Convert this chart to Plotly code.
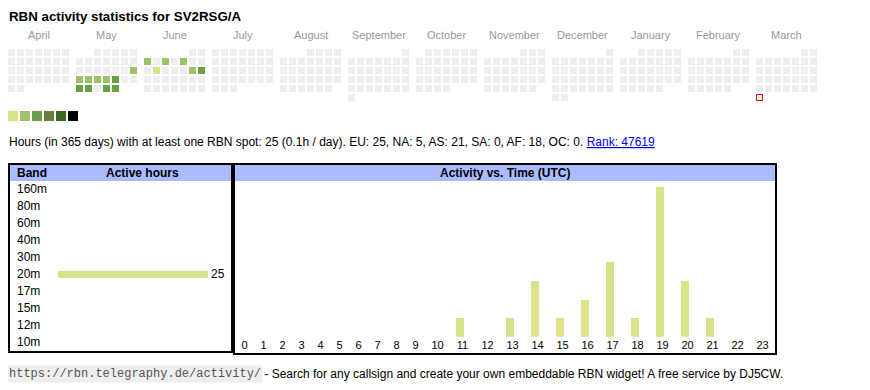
import datetime as dt
import plotly.graph_objects as go

# ---------------- data ----------------
title_text = "RBN activity statistics for SV2RSG/A"
start_date = dt.date(2024, 4, 1)
end_date = dt.date(2025, 3, 31)
month_names = ["April", "May", "June", "July", "August", "September",
               "October", "November", "December", "January", "February", "March"]
active_dates = ["2024-05-19", "2024-05-20", "2024-05-21", "2024-05-22", "2024-05-23",
                "2024-05-24", "2024-05-27", "2024-05-28", "2024-05-30", "2024-05-31",
                "2024-06-03", "2024-06-05", "2024-06-07", "2024-06-11", "2024-06-15",
                "2024-06-16"]
active_levels = [2, 2, 2, 2, 2, 3, 3, 3, 3, 3, 2, 2, 2, 1, 2, 3]
level_colors = ["#eeeeee", "#dae38a", "#9dc26a", "#68a045", "#687d3b", "#3b6a27", "#000000"]

summary_text = ("Hours (in 365 days) with at least one RBN spot: 25 (0.1h / day). "
                "EU: 25, NA: 5, AS: 21, SA: 0, AF: 18, OC: 0. ")
rank_text = "Rank: 47619"

bands = ["160m", "80m", "60m", "40m", "30m", "20m", "17m", "15m", "12m", "10m"]
band_hours = [0, 0, 0, 0, 0, 25, 0, 0, 0, 0]

hours = list(range(24))
hour_counts = [0, 0, 0, 0, 0, 0, 0, 0, 0, 0, 0, 1, 0, 1, 3, 1, 2, 4, 1, 8, 3, 1, 0, 0]

footer_url = "https://rbn.telegraphy.de/activity/"
footer_text = " - Search for any callsign and create your own embeddable RBN widget! A free service by DJ5CW."

# ---------------- layout constants ----------------
OFF = 8                 # page margin around the plot div
FW, FH = 862, 382       # figure size (page coordinates OFF..OFF+FW)
SANS = "Liberation Sans, Arial, sans-serif"
MONO = "Liberation Mono, DejaVu Sans Mono, monospace"
BAR_COLOR = level_colors[1]
HEAD_COLOR = "#aabbff"
CAL_X0, CAL_Y0, BLOCK_W, PITCH, CELL = 8, 49, 68, 9, 7
LEFT = 8.5              # left text edge (inside the axis range)


def dx(px):
    return (px - OFF) / FW


def dy(px):
    return 1 - (px - OFF) / FH


# ---------------- calendar cells ----------------
level_of = {dt.date.fromisoformat(d): l for d, l in zip(active_dates, active_levels)}
cx, cy, cc = [], [], []
d = start_date
while d <= end_date:
    m_idx = (d.year - start_date.year) * 12 + d.month - start_date.month
    pos = d.replace(day=1).weekday() + d.day - 1
    cx.append(CAL_X0 + m_idx * BLOCK_W + (pos % 7) * PITCH + CELL / 2)
    cy.append(CAL_Y0 + (pos // 7) * PITCH + CELL / 2)
    cc.append(level_colors[level_of.get(d, 0)])
    d += dt.timedelta(days=1)
today_x, today_y = cx[-1], cy[-1]

fig = go.Figure()
fig.add_trace(go.Scatter(x=cx, y=cy, mode="markers", hoverinfo="skip",
                         marker=dict(symbol="square", size=CELL, color=cc, line=dict(width=0)),
                         xaxis="x", yaxis="y"))
fig.add_trace(go.Scatter(x=[today_x], y=[today_y], mode="markers", hoverinfo="skip",
                         marker=dict(symbol="square", size=CELL - 1, color=level_colors[0],
                                     line=dict(width=1, color="#ee0000")),
                         xaxis="x", yaxis="y"))
# colour legend
leg_levels = list(range(1, len(level_colors)))
fig.add_trace(go.Scatter(x=[8 + 12 * (i - 1) + 5 for i in leg_levels], y=[116] * len(leg_levels),
                         mode="markers", hoverinfo="skip",
                         marker=dict(symbol="square", size=10,
                                     color=[level_colors[i] for i in leg_levels], line=dict(width=0)),
                         xaxis="x", yaxis="y"))

# ---------------- band bars ----------------
fig.add_trace(go.Bar(x=band_hours, y=bands, orientation="h", width=0.41,
                     marker=dict(color=BAR_COLOR, line=dict(width=0)),
                     text=[str(v) if v else "" for v in band_hours], textposition="outside",
                     constraintext="none",
                     textfont=dict(family=SANS, size=12, color="#000"),
                     cliponaxis=False, hoverinfo="skip", xaxis="x2", yaxis="y2"))

# ---------------- hourly bars ----------------
col_w = [13 + 6 * len(str(h)) for h in hours]
centers = []
acc = 235
for w in col_w:
    centers.append(acc + w / 2)
    acc += w
fig.add_trace(go.Bar(x=centers, y=hour_counts, width=8, offset=-6.5,
                     marker=dict(color=BAR_COLOR, line=dict(width=0)),
                     hoverinfo="skip", xaxis="x3", yaxis="y3"))

# ---------------- shapes (boxes/headers) ----------------
shapes = [
    dict(type="rect", xref="x", yref="y", x0=10, x1=231, y0=165, y1=181,
         fillcolor=HEAD_COLOR, line=dict(width=0), layer="below"),
    dict(type="rect", xref="x", yref="y", x0=235, x1=775, y0=165, y1=181,
         fillcolor=HEAD_COLOR, line=dict(width=0), layer="below"),
    dict(type="rect", xref="x", yref="y", x0=9, x1=232, y0=164, y1=352,
         line=dict(width=2, color="#000"), fillcolor="rgba(0,0,0,0)"),
    dict(type="rect", xref="x", yref="y", x0=234, x1=776, y0=164, y1=354,
         line=dict(width=2, color="#000"), fillcolor="rgba(0,0,0,0)"),
]

# ---------------- annotations ----------------
ann = []
ann.append(dict(x=LEFT, xshift=-1.5, y=16, xref="x", yref="y", text="<b>" + title_text + "</b>",
                xanchor="left", yanchor="middle", showarrow=False,
                font=dict(family=SANS, size=13.3, color="#000")))
for i, name in enumerate(month_names):
    ann.append(dict(x=CAL_X0 + i * BLOCK_W + (7 * PITCH - 2) / 2, y=35, xref="x", yref="y",
                    text=name, xanchor="center", yanchor="middle", showarrow=False,
                    font=dict(family=SANS, size=11, color="#999999")))
ann.append(dict(x=LEFT, xshift=-1.5, y=142, xref="x", yref="y",
                text=summary_text + "<span style='color:#0000ee'><u>" + rank_text + "</u></span>",
                xanchor="left", yanchor="middle", showarrow=False,
                font=dict(family=SANS, size=12, color="#000")))
ann.append(dict(x=14.5, y=173, xref="x", yref="y", text="<b>Band</b>", xanchor="left",
                yanchor="middle", showarrow=False, font=dict(family=SANS, size=12, color="#000")))
ann.append(dict(x=142, y=173, xref="x", yref="y", text="<b>Active hours</b>", xanchor="center",
                yanchor="middle", showarrow=False, font=dict(family=SANS, size=12, color="#000")))
ann.append(dict(x=505, y=173, xref="x", yref="y", text="<b>Activity vs. Time (UTC)</b>",
                xanchor="center", yanchor="middle", showarrow=False,
                font=dict(family=SANS, size=12, color="#000")))
for b in bands:
    ann.append(dict(x=14.5, y=b, xref="x", yref="y2", text=b, xanchor="left", yanchor="middle",
                    showarrow=False, font=dict(family=SANS, size=12, color="#000")))
ann.append(dict(x=LEFT, xshift=-1.5, y=374, xref="x", yref="y", text=footer_url,
                xanchor="left", yanchor="middle",
                showarrow=False, bgcolor="#eeeeee", borderpad=1,
                font=dict(family=MONO, size=12, color="#555555")))
ann.append(dict(x=259, y=374, xref="x", yref="y", text=footer_text, xanchor="left",
                yanchor="middle", showarrow=False, font=dict(family=SANS, size=12, color="#000")))

fig.update_layout(
    width=FW, height=FH, autosize=False, margin=dict(l=0, r=0, t=0, b=0),
    paper_bgcolor="#ffffff", plot_bgcolor="rgba(0,0,0,0)", showlegend=False,
    shapes=shapes, annotations=ann, bargap=0,
    xaxis=dict(domain=[0, 1], range=[OFF, OFF + FW], visible=False, fixedrange=True),
    yaxis=dict(domain=[0, 1], range=[OFF + FH, OFF], visible=False, fixedrange=True),
    xaxis2=dict(domain=[dx(58), dx(208)], range=[0, max(band_hours)], visible=False,
                anchor="y2", fixedrange=True),
    yaxis2=dict(domain=[dy(350.8), dy(180.8)], type="category", categoryorder="array",
                categoryarray=bands, range=[len(bands) - 0.5, -0.5], visible=False,
                anchor="x2", fixedrange=True),
    xaxis3=dict(domain=[0, 1], range=[OFF, OFF + FW], anchor="y3", tickmode="array",
                tickvals=centers, ticktext=[str(h) for h in hours], ticks="", showline=False,
                showgrid=False, zeroline=False, tickfont=dict(family=SANS, size=11, color="#000"),
                fixedrange=True),
    yaxis3=dict(domain=[dy(336.7), dy(186.7)], range=[0, max(hour_counts)], visible=False,
                anchor="x3", fixedrange=True),
)

fig.write_html("out.html")
